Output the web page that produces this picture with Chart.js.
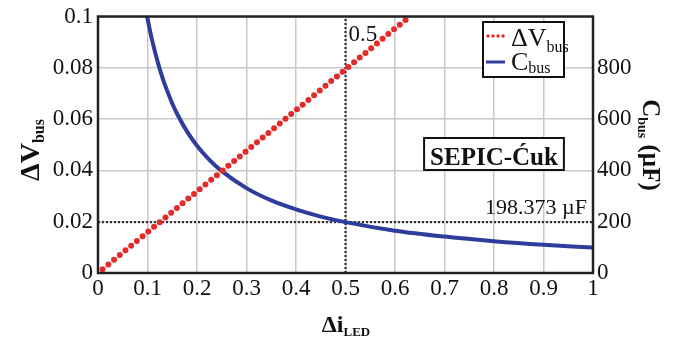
<!DOCTYPE html>
<html><head><meta charset="utf-8">
<script src="https://cdn.jsdelivr.net/npm/chart.js@4/dist/chart.umd.min.js"></script>
<style>html,body{margin:0;padding:0;background:#fff;}#wrap{width:683px;height:340px;position:relative}</style>
</head><body><div id="wrap"><canvas id="c" width="683" height="340"></canvas></div>
<script>
// ΔV_bus (left axis) versus Δi_LED
const deltaI = [0, 0.1, 0.2, 0.3, 0.4, 0.5, 0.6, 0.625];
const deltaV = [0, 0.0159, 0.0318, 0.0476, 0.0635, 0.0794, 0.0953, 0.0992];
// C_bus in µF (right axis) versus Δi_LED
const capI = [0.0992, 0.105, 0.11, 0.12, 0.13, 0.14, 0.15, 0.16, 0.18, 0.2, 0.225, 0.25, 0.3, 0.35, 0.4, 0.45, 0.5, 0.6, 0.7, 0.8, 0.9, 1.0];
const capC = [1000, 945, 902, 827, 763, 709, 661, 620, 551, 496, 441, 397, 331, 283, 248, 220, 198.4, 165, 142, 124, 110, 99.2];
// Marked operating point
const markI = 0.5;
const markC = 198.373;
const markLabelI = '0.5';
const markLabelC = '198.373 µF';
// Axis ranges / ticks
const xRange = [0, 1], xStep = 0.1;
const vRange = [0, 0.1], vStep = 0.02;
const cRange = [0, 1000], cStep = 200;
const boxLabel = 'SEPIC-Ćuk';

const SERIF = '"Liberation Serif", "Times New Roman", serif';
const pts = (xs, ys) => xs.map((x, i) => ({x, y: ys[i]}));

function drawParts(ctx, parts, x, y, align) {
  let w = 0;
  parts.forEach(p => { ctx.font = p.font; p.w = ctx.measureText(p.t).width; w += p.w; });
  let cx = align === 'center' ? x - w / 2 : align === 'right' ? x - w : x;
  ctx.textAlign = 'left'; ctx.textBaseline = 'alphabetic';
  parts.forEach(p => { ctx.font = p.font; ctx.fillText(p.t, cx, y + (p.dy || 0)); cx += p.w; });
}

const overlay = {
  id: 'overlay',
  afterDatasetsDraw(chart) {
    const ctx = chart.ctx, a = chart.chartArea;
    const xs = chart.scales.x, cs = chart.scales.y2;
    ctx.save();
    // frame
    ctx.strokeStyle = '#222'; ctx.lineWidth = 2.5;
    ctx.strokeRect(a.left, a.top, a.right - a.left, a.bottom - a.top);
    ctx.fillStyle = '#111';
    // marker labels
    drawParts(ctx, [{t: markLabelI, font: '23px ' + SERIF}], xs.getPixelForValue(markI) + 3, a.top + 24, 'left');
    drawParts(ctx, [{t: markLabelC, font: '22px ' + SERIF}], a.right - 6, cs.getPixelForValue(markC) - 8, 'right');
    // SEPIC box
    ctx.font = 'bold 25px ' + SERIF;
    const bw = ctx.measureText(boxLabel).width;
    const by = 138;
    ctx.fillStyle = '#fff';
    ctx.fillRect(494 - bw / 2 - 6, by, bw + 12, 32);
    ctx.strokeStyle = '#111'; ctx.lineWidth = 2;
    ctx.strokeRect(494 - bw / 2 - 6, by, bw + 12, 32);
    ctx.fillStyle = '#111';
    drawParts(ctx, [{t: boxLabel, font: 'bold 25px ' + SERIF}], 494, 165, 'center');
    // legend
    ctx.fillStyle = '#fff';
    ctx.fillRect(483, 22, 81, 55);
    ctx.strokeStyle = '#111'; ctx.lineWidth = 2;
    ctx.strokeRect(483, 22, 81, 55);
    ctx.strokeStyle = '#e52a2a'; ctx.lineWidth = 3.5; ctx.lineCap = 'round';
    ctx.setLineDash([0, 5]);
    ctx.beginPath(); ctx.moveTo(488, 36); ctx.lineTo(506, 36); ctx.stroke();
    ctx.setLineDash([]); ctx.lineCap = 'butt';
    ctx.strokeStyle = '#2e3d9c'; ctx.lineWidth = 3;
    ctx.beginPath(); ctx.moveTo(486, 62); ctx.lineTo(505, 62); ctx.stroke();
    ctx.fillStyle = '#111';
    drawParts(ctx, [{t: 'ΔV', font: '26px ' + SERIF}, {t: 'bus', font: '16px ' + SERIF, dy: 6}], 511, 46, 'left');
    drawParts(ctx, [{t: 'C', font: '26px ' + SERIF}, {t: 'bus', font: '16px ' + SERIF, dy: 3}], 511, 70, 'left');
    // axis titles
    drawParts(ctx, [{t: 'Δi', font: 'bold 24px ' + SERIF}, {t: 'LED', font: 'bold 13px ' + SERIF, dy: 4}], 346, 332, 'center');
    ctx.save(); ctx.translate(39, 150); ctx.rotate(-Math.PI / 2);
    drawParts(ctx, [{t: 'ΔV', font: 'bold 28px ' + SERIF}, {t: 'bus', font: 'bold 16px ' + SERIF, dy: 5}], 0, 0, 'center');
    ctx.restore();
    ctx.save(); ctx.translate(643, 145); ctx.rotate(Math.PI / 2);
    drawParts(ctx, [{t: 'C', font: 'bold 25px ' + SERIF}, {t: 'bus', font: 'bold 14px ' + SERIF, dy: 5}, {t: ' (µF)', font: 'bold 25px ' + SERIF}], 0, 0, 'center');
    ctx.restore();
    ctx.restore();
  }
};

new Chart(document.getElementById('c'), {
  type: 'scatter',
  data: {
    datasets: [
      {
        label: 'ΔV_bus', data: pts(deltaI, deltaV), yAxisID: 'y', showLine: true,
        borderColor: '#e52a2a', borderWidth: 6, borderCapStyle: 'round',
        borderDash: [0, 7.4], borderDashOffset: 1.4, pointRadius: 0, tension: 0
      },
      {
        label: 'C_bus', data: pts(capI, capC), yAxisID: 'y2', showLine: true,
        borderColor: '#2e3d9c', borderWidth: 4, pointRadius: 0, cubicInterpolationMode: 'monotone'
      },
      {
        label: 'v-mark', data: [{x: markI, y: vRange[0]}, {x: markI, y: vRange[1]}], yAxisID: 'y', showLine: true,
        borderColor: '#333', borderWidth: 2.2, borderDash: [2, 2], pointRadius: 0
      },
      {
        label: 'h-mark', data: [{x: xRange[0], y: markC}, {x: xRange[1], y: markC}], yAxisID: 'y2', showLine: true,
        borderColor: '#333', borderWidth: 2.2, borderDash: [2, 2], pointRadius: 0
      }
    ]
  },
  options: {
    responsive: false, animation: false,
    layout: {padding: {top: 14, left: 0, right: 0, bottom: 0}},
    plugins: {legend: {display: false}, tooltip: {enabled: false}},
    scales: {
      x: {
        type: 'linear', min: xRange[0], max: xRange[1],
        afterFit: s => { s.height = 67; },
        grid: {color: '#c8c8c8', lineWidth: 1.5, drawTicks: false},
        border: {display: false},
        ticks: {stepSize: xStep, padding: 4, color: '#111', font: {family: SERIF, size: 23, lineHeight: 1},
          maxRotation: 0, callback: v => +v.toFixed(1)}
      },
      y: {
        position: 'left', min: vRange[0], max: vRange[1],
        afterFit: s => { s.width = 98; },
        grid: {color: '#c8c8c8', lineWidth: 1.5, drawTicks: false},
        border: {display: false},
        ticks: {stepSize: vStep, padding: 5, color: '#111', font: {family: SERIF, size: 23, lineHeight: 1},
          callback: v => +v.toFixed(2)}
      },
      y2: {
        position: 'right', min: cRange[0], max: cRange[1],
        afterFit: s => { s.width = 90; },
        grid: {display: false, drawTicks: false},
        border: {display: false},
        ticks: {stepSize: cStep, padding: 4, color: '#111', font: {family: SERIF, size: 23, lineHeight: 1},
          callback: v => v === cRange[1] ? '' : v}
      }
    }
  },
  plugins: [overlay]
});
</script></body></html>
